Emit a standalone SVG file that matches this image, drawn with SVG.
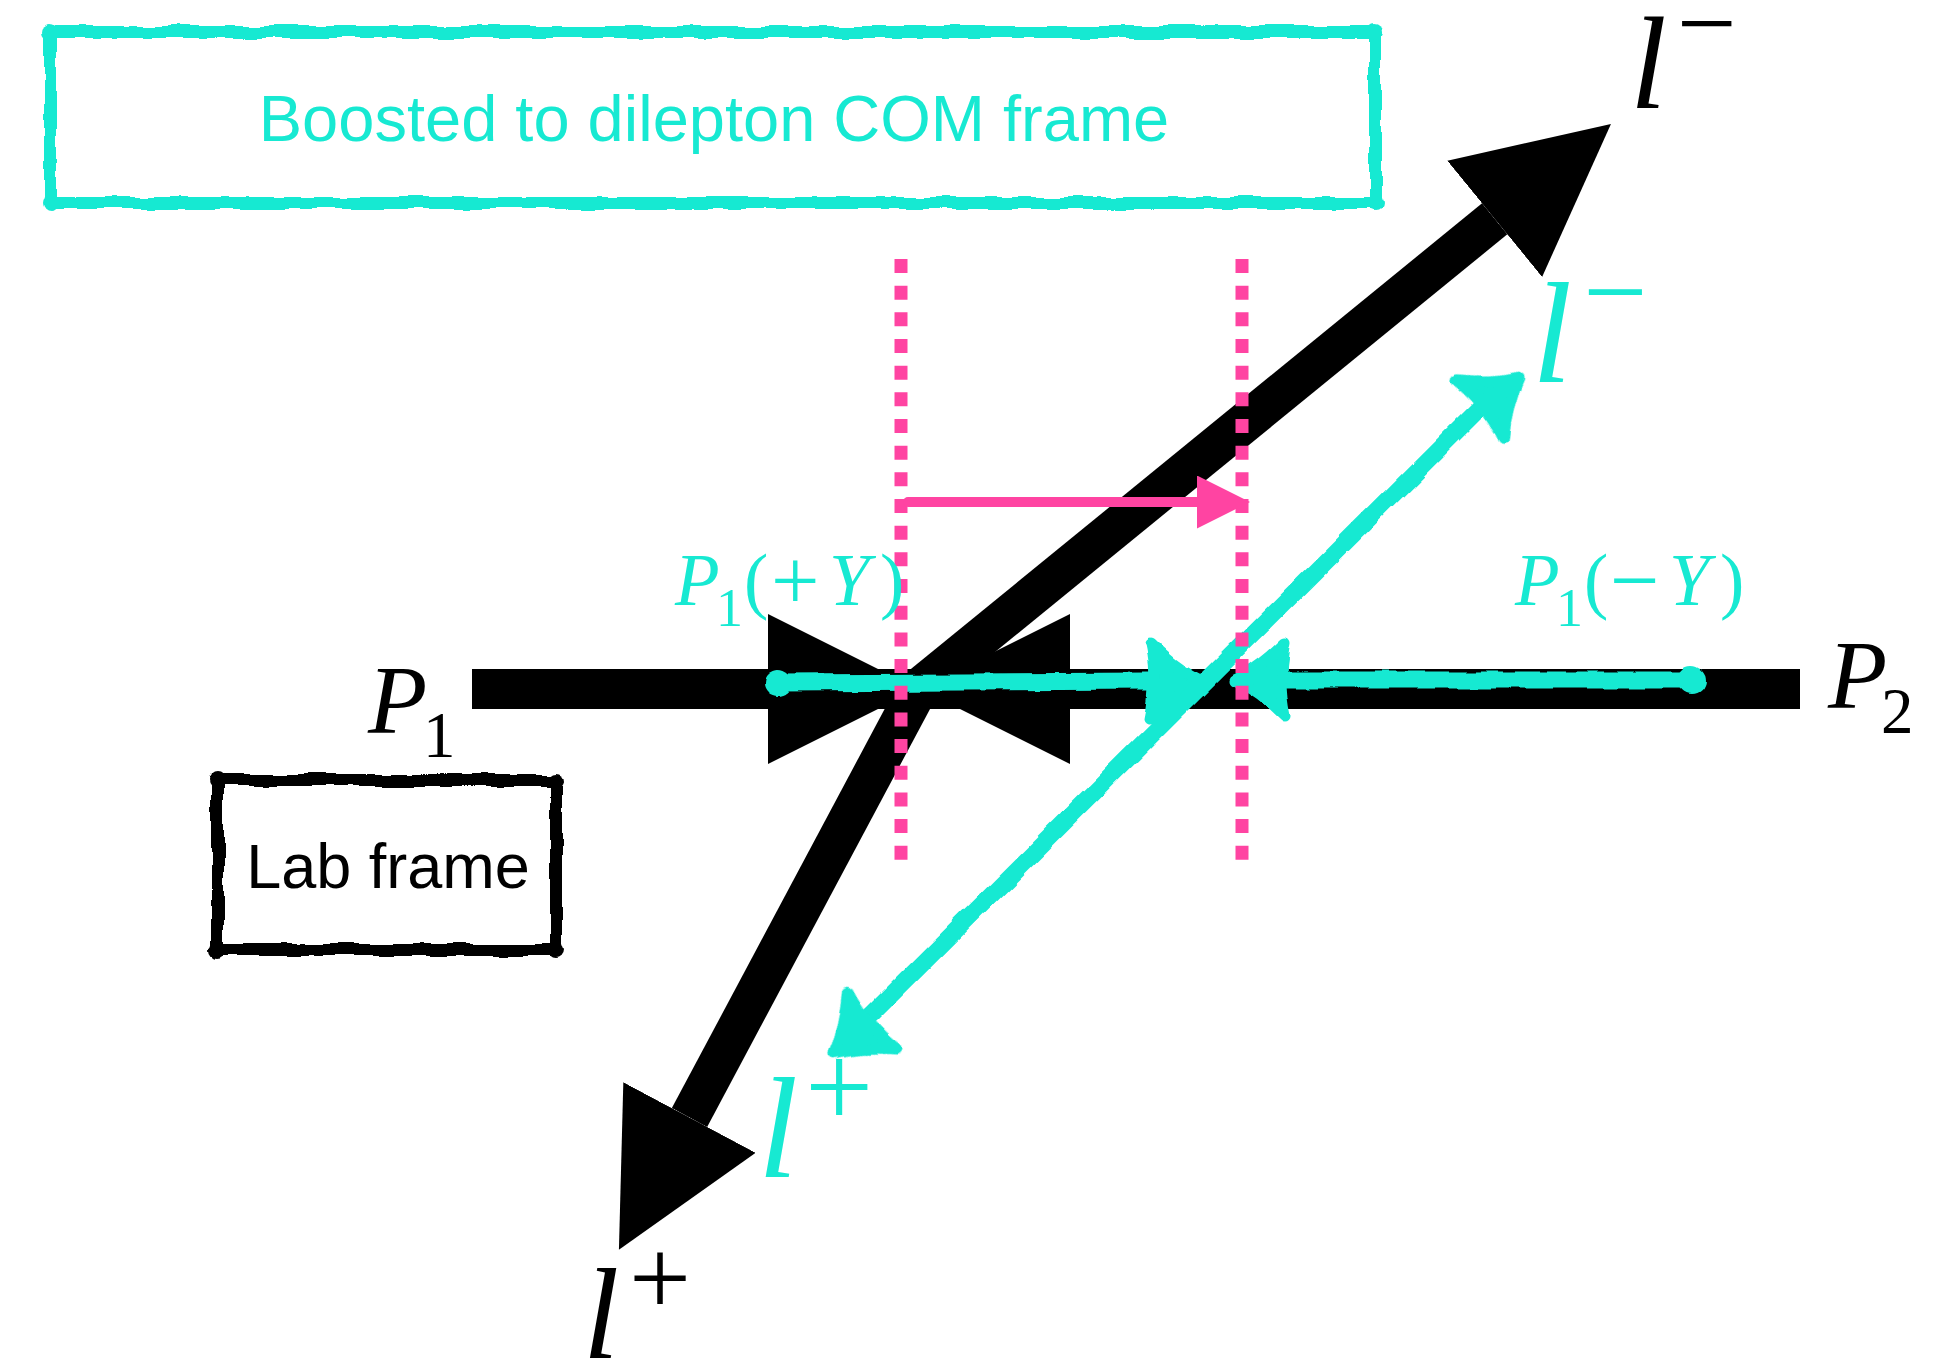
<svg xmlns="http://www.w3.org/2000/svg" width="1953" height="1366" viewBox="0 0 1953 1366">
<style>
  .cyf{fill:#17E9D2}
  .cyl{fill:none;stroke:#17E9D2;stroke-width:17;stroke-linecap:round;stroke-linejoin:round}
  .bkl{fill:none;stroke:#000;stroke-width:40}
  .pkl{fill:none;stroke:#FF44A2;stroke-width:10}
  .dots{fill:none;stroke:#FF44A2;stroke-width:13;stroke-dasharray:14 12.67}
  .sans{font-family:"Liberation Sans",Arial,sans-serif}
  .serif{font-family:"Liberation Serif","Times New Roman",serif}
  .it{font-style:italic}
</style>
<defs>
  <marker id="bkHead" markerUnits="userSpaceOnUse" markerWidth="150" markerHeight="150" refX="0" refY="75" orient="auto" viewBox="0 0 150 150">
    <path d="M0,0 L150,75 L0,150 Z" fill="#000"/>
  </marker>
  <marker id="pkHead" markerUnits="userSpaceOnUse" markerWidth="53" markerHeight="53" refX="0" refY="26.5" orient="auto" viewBox="0 0 53 53">
    <path d="M0,0 L53,26.5 L0,53 Z" fill="#FF44A2"/>
  </marker>
  <path id="cyHead" d="M-5,0 Q-30,-12 -55,-37 Q-47,0 -55,37 Q-30,12 -5,0 Z" fill="#17E9D2" stroke="#17E9D2" stroke-width="11" stroke-linejoin="round"/>
  <filter id="rough" filterUnits="userSpaceOnUse" x="0" y="0" width="1953" height="1366">
    <feTurbulence type="fractalNoise" baseFrequency="0.03" numOctaves="2" seed="7" result="n"/>
    <feDisplacementMap in="SourceGraphic" in2="n" scale="8" xChannelSelector="R" yChannelSelector="G"/>
  </filter>
</defs>
<rect width="1953" height="1366" fill="#fff"/>

<!-- Boosted frame box -->
<g id="com-frame">
  <g filter="url(#rough)">
    <rect x="50" y="32" width="1325" height="171" rx="3" fill="none" stroke="#17E9D2" stroke-width="12"/>
    <circle cx="50" cy="32" r="8" class="cyf"/>
    <circle cx="1375" cy="32" r="8" class="cyf"/>
    <circle cx="50" cy="203" r="8" class="cyf"/>
    <circle cx="1375" cy="203" r="8" class="cyf"/>
  </g>
  <text x="714" y="141" class="sans cyf" font-size="65" text-anchor="middle">Boosted to dilepton COM frame</text>
</g>

<!-- Lab frame box -->
<g id="lab-frame">
  <g filter="url(#rough)">
    <rect x="218" y="780" width="338" height="170" rx="3" fill="none" stroke="#000" stroke-width="12"/>
    <circle cx="218" cy="780" r="8"/>
    <circle cx="556" cy="780" r="8"/>
    <circle cx="218" cy="950" r="8"/>
    <circle cx="556" cy="950" r="8"/>
  </g>
  <text x="388" y="888" class="sans" font-size="63" text-anchor="middle" fill="#000">Lab frame</text>
</g>

<g id="connectors">
  <!-- black lab-frame momenta -->
  <line x1="760" y1="689" x2="1080" y2="689" class="bkl"/>
  <line id="beam-P1" x1="472" y1="689" x2="768" y2="689" class="bkl" marker-end="url(#bkHead)"/>
  <line id="beam-P2" x1="1800" y1="689" x2="1070" y2="689" class="bkl" marker-end="url(#bkHead)"/>
  <line id="lab-lminus" x1="918" y1="689" x2="1494.7" y2="218.8" class="bkl" marker-end="url(#bkHead)"/>
  <line id="lab-lplus" x1="918" y1="689" x2="689.5" y2="1117.5" class="bkl" marker-end="url(#bkHead)"/>

  <!-- cyan COM-frame momenta -->
  <g filter="url(#rough)">
    <path id="com-P1" d="M777,683 L1150,681" class="cyl"/>
    <ellipse cx="778" cy="683" rx="14" ry="13" class="cyf"/>
    <use href="#cyHead" transform="translate(1205,681)"/>
    <path id="com-P2" d="M1691,680 L1284,680" class="cyl"/>
    <ellipse cx="1691" cy="680" rx="14" ry="14" class="cyf"/>
    <use href="#cyHead" transform="translate(1230,680) rotate(180)"/>
    <path id="com-leptons" d="M1482,406 L870,1016" class="cyl"/>
    <use href="#cyHead" transform="translate(1523,375) rotate(-39)"/>
    <use href="#cyHead" transform="translate(830,1057) rotate(140)"/>
  </g>

  <!-- pink boost -->
  <line x1="901" y1="259" x2="901" y2="860" class="dots"/>
  <line x1="1242" y1="259" x2="1242" y2="860" class="dots"/>
  <line id="boost" x1="908" y1="502" x2="1197" y2="502" class="pkl" stroke-linecap="round" marker-end="url(#pkHead)"/>
</g>

<!-- labels -->
<g id="label-P1">
  <text class="serif" fill="#000"><tspan class="it" x="368" y="733" font-size="97">P</tspan><tspan x="423" y="757" font-size="65">1</tspan></text>
</g>
<g id="label-P2">
  <text class="serif" fill="#000"><tspan class="it" x="1828" y="708" font-size="97">P</tspan><tspan x="1881" y="733" font-size="65">2</tspan></text>
</g>
<g id="label-lminus">
  <text class="serif" fill="#000"><tspan class="it" x="1630" y="108" font-size="132">l</tspan><tspan x="1677" y="59" font-size="106">−</tspan></text>
</g>
<g id="label-lplus">
  <text class="serif" fill="#000"><tspan class="it" x="583" y="1358" font-size="130">l</tspan><tspan x="629" y="1315" font-size="110">+</tspan></text>
</g>
<g id="label-lminus-com">
  <text class="serif cyf"><tspan class="it" x="1532" y="382" font-size="144">l</tspan><tspan x="1583" y="330" font-size="114">−</tspan></text>
</g>
<g id="label-lplus-com">
  <text class="serif cyf"><tspan class="it" x="758" y="1177" font-size="144">l</tspan><tspan x="805" y="1127" font-size="121">+</tspan></text>
</g>
<g id="label-P1-plusY">
  <text class="serif cyf"><tspan class="it" x="675" y="605" font-size="73">P</tspan><tspan x="716" y="626" font-size="54">1</tspan><tspan x="744" y="605" font-size="73">(</tspan><tspan x="771" y="610" font-size="86">+</tspan><tspan class="it" x="829" y="605" font-size="73">Y</tspan><tspan x="880" y="605" font-size="73">)</tspan></text>
</g>
<g id="label-P1-minusY">
  <text class="serif cyf"><tspan class="it" x="1515" y="605" font-size="73">P</tspan><tspan x="1556" y="626" font-size="54">1</tspan><tspan x="1584" y="605" font-size="73">(</tspan><tspan x="1610" y="610" font-size="88">−</tspan><tspan class="it" x="1669" y="605" font-size="73">Y</tspan><tspan x="1720" y="605" font-size="73">)</tspan></text>
</g>
</svg>
